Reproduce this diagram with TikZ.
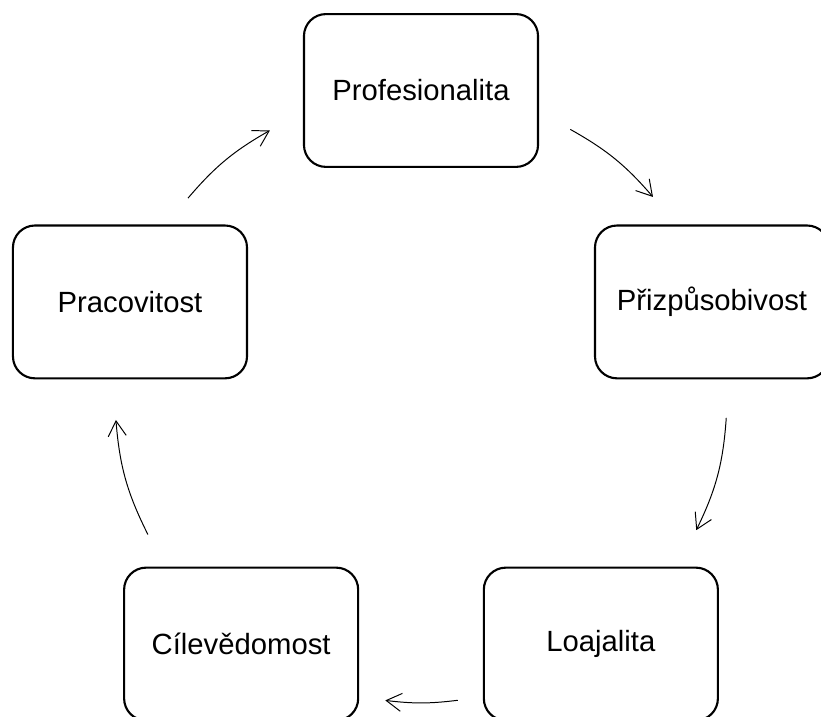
\documentclass[tikz,border=0pt]{standalone}
\usepackage{fontspec}
\setmainfont{Liberation Sans}
\usetikzlibrary{arrows.meta}

\begin{document}
\begin{tikzpicture}[x=0.025cm,y=0.025cm,
    doboz/.style={draw,line width=1.5pt,rounded corners=0.55cm,minimum width=5.85cm,minimum height=3.82cm,font=\fontsize{20.8}{25}\selectfont},
    nyil/.style={line width=0.7pt,-{Straight Barb[length=0.38cm,width=0.45cm]}}]

    \useasboundingbox (0,0) rectangle (821,716);
    \clip (0,0) rectangle (821,716);
    \coordinate (kozep) at (421,319.5); % középpont

    \node[doboz] (prof) at ([shift={(90:306)}]kozep) {Profesionalita};
    \node[doboz] (priz) at ([shift={(18:306)}]kozep) {Přizpůsobivost};
    \node[doboz] (loaj) at ([shift={(-54:306)}]kozep) {Loajalita};
    \node[doboz] (cile) at ([shift={(-126:306)}]kozep) {Cílevědomost};
    \node[doboz] (prac) at ([shift={(162:306)}]kozep) {Pracovitost};

    % nyilak a körön
    \path (kozep) ++(60.8:306) coordinate (n1a) (kozep) ++(40.7:306) coordinate (n1b);
    \path (kozep) ++(-4:306) coordinate (n2a) (kozep) ++(-25.9:306) coordinate (n2b);
    \path (kozep) ++(-83.1:306) coordinate (n3a) (kozep) ++(-96.7:306) coordinate (n3b);
    \path (kozep) ++(-153.2:306) coordinate (n4a) (kozep) ++(-175.6:306) coordinate (n4b);
    \path (kozep) ++(139.6:306) coordinate (n5a) (kozep) ++(119.6:306) coordinate (n5b);

    \draw[nyil] (n1a) to[bend left=10] (n1b);
    \draw[nyil] (n2a) to[bend left=11] (n2b);
    \draw[nyil] (n3a) to[bend left=7] (n3b);
    \draw[nyil] (n4a) to[bend left=11] (n4b);
    \draw[nyil] (n5a) to[bend left=10] (n5b);

\end{tikzpicture}
\end{document}
